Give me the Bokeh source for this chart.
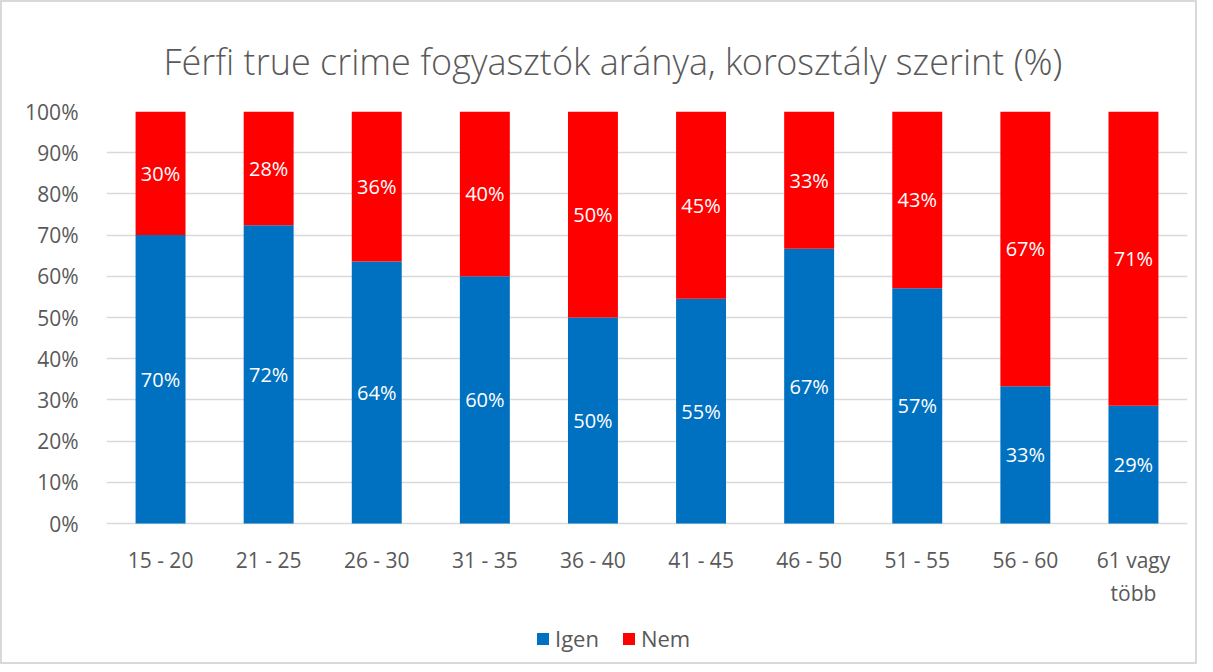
from bokeh.plotting import figure
from bokeh.models import (ColumnDataSource, NumeralTickFormatter, FixedTicker, Legend, LegendItem, Range1d)
from bokeh.core.properties import value
from bokeh.embed import file_html
from bokeh.resources import INLINE

categories = ["15 - 20", "21 - 25", "26 - 30", "31 - 35", "36 - 40", "41 - 45",
              "46 - 50", "51 - 55", "56 - 60", "61 vagy\ntöbb"]
igen = [70.0, 72.4, 63.6, 60.0, 50.0, 54.55, 66.7, 57.1, 33.3, 28.6]
nem = [30.0, 27.6, 36.4, 40.0, 50.0, 45.45, 33.3, 42.9, 66.7, 71.4]
series_names = ["Igen", "Nem"]
colors = ["#0070C0", "#FF0000"]
y_ticks = [0, 10, 20, 30, 40, 50, 60, 70, 80, 90, 100]

FONT = "Open Sans"
GREY = "#595959"

def pct(v):
    return f"{int(v + 0.5)}%"

xs = list(range(len(categories)))
src = ColumnDataSource(dict(
    x=xs,
    igen=[v / 100 for v in igen],
    nem=[v / 100 for v in nem],
    igen_mid=[v / 200 for v in igen],
    nem_mid=[(i + 100) / 200 for i in igen],
    igen_lab=[pct(v) for v in igen],
    nem_lab=[pct(v) for v in nem],
))

# frame spans from the 100% line down to near the bottom edge; the
# category axis is pinned at y=0 so the legend fits inside the frame
PLOT_PX = 412.0
BELOW_PX = 137.0
p = figure(width=1197, height=664, output_backend="svg", toolbar_location=None,
           x_range=Range1d(-0.5, len(categories) - 0.5),
           y_range=Range1d(-BELOW_PX / PLOT_PX, 1),
           min_border_left=104, min_border_right=12, min_border_top=109, min_border_bottom=6)
p.styles = {"border": "2px solid #d9d9d9", "box-sizing": "border-box"}

r = p.vbar_stack(["igen", "nem"], x="x", width=0.462, source=src, color=colors,
                 line_color=None)

p.text(x="x", y="igen_mid", text="igen_lab", source=src, text_color="white",
       text_align="center", text_baseline="middle", text_font=value(FONT),
       text_font_size="20px")
p.text(x="x", y="nem_mid", text="nem_lab", source=src, text_color="white",
       text_align="center", text_baseline="middle", text_font=value(FONT),
       text_font_size="20px")

p.title.text = "Férfi true crime fogyasztók aránya, korosztály szerint (%)"
p.title.align = "left"
p.title.offset = 57
p.title.text_font = "Open Sans Light, Lato Light, Open Sans"
p.title.text_font_size = "36px"
p.title.text_font_style = "normal"
p.title.text_color = GREY
p.title.standoff = 51

p.yaxis.ticker = FixedTicker(ticks=[t / 100 for t in y_ticks])
p.yaxis.formatter = NumeralTickFormatter(format="0%")
p.xaxis.ticker = FixedTicker(ticks=xs)
p.xaxis.major_label_overrides = {i: c for i, c in enumerate(categories)}
p.xaxis.fixed_location = 0
for ax in (p.xaxis, p.yaxis):
    ax.axis_line_color = None
    ax.major_tick_line_color = None
    ax.minor_tick_line_color = None
    ax.major_label_text_font = FONT
    ax.major_label_text_color = GREY
p.yaxis.major_label_text_font_size = "21px"
p.xaxis.major_label_text_font_size = "21px"
p.yaxis.major_label_standoff = 22
p.xaxis.major_label_standoff = 16

p.xgrid.grid_line_color = None
p.ygrid.grid_line_color = "#d9d9d9"
p.ygrid.grid_line_width = 1.5
p.ygrid.ticker = FixedTicker(ticks=[t / 100 for t in y_ticks])
p.outline_line_color = None

legend = Legend(items=[LegendItem(label=series_names[i], renderers=[r[i]]) for i in range(2)],
                orientation="horizontal", location=(429, 7),
                label_text_font=FONT, label_text_font_size="22px", label_text_color=GREY,
                glyph_width=15, glyph_height=15, spacing=22, label_standoff=5,
                padding=2, margin=0,
                border_line_color=None, background_fill_alpha=0)
p.add_layout(legend, "center")

open("out.html", "w").write(file_html(p, INLINE))
